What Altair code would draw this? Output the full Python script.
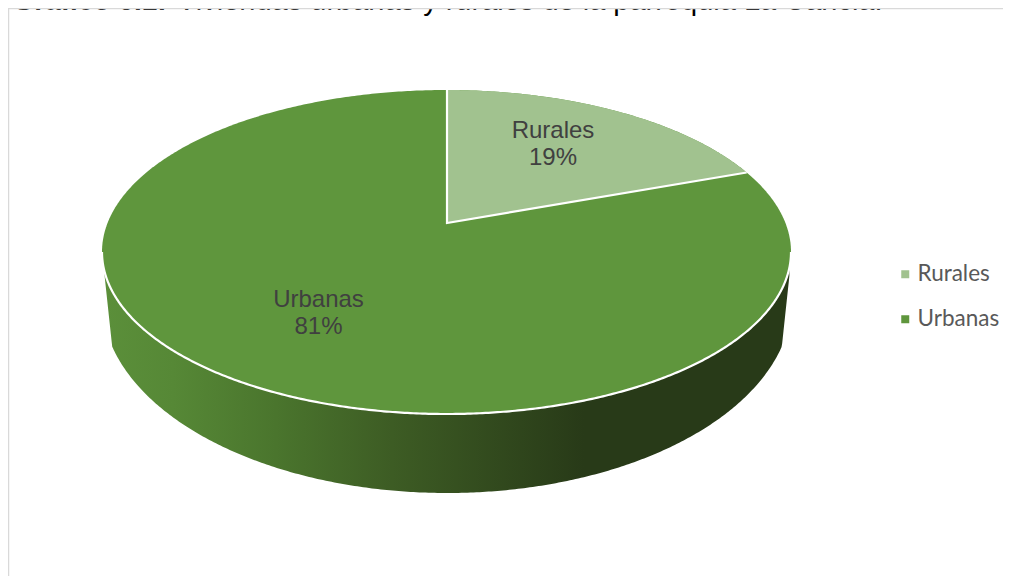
import numpy as np
import pandas as pd
import altair as alt

# ---- values
categories = ["Rurales", "Urbanas"]
shares = [19.4, 80.6]
percent_labels = ["19%", "81%"]
colors = ["#A1C28F", "#5F963D"]
title_bold = "Gráfico 6.1:"
title_rest = "Viviendas urbanas y rurales de la parroquia La Cancia."

# ---- geometry of the tilted pie, in page pixels
M = 8
PLOT_W, PLOT_H = 995, 568
cx, cy, rx, ry = 446.5, 252.0, 344.5, 162.0
apex_x, apex_y = 447.0, 223.0
low_cy, low_rx, low_ry = 300.0, 345.0, 193.0
edge_dx, edge_y, edge_slope = 342.5, 275.0, 9.33

t = np.linspace(0, np.pi, 361)
ex = cx - rx * np.cos(t)
e_lo = cy + ry * np.sin(t)
e_hi = cy - ry * np.sin(t)

# end of the Rurales slice: circle angle projected with the pie's perspective
theta = 2 * np.pi * shares[0] / 100
up, down = apex_y - (cy - ry), (cy + ry) - apex_y
k = (down - up) / (down + up)
u, v = np.sin(theta), np.cos(theta)
end_x = apex_x + rx * np.sqrt(1 - k * k) * u / (1 + k * v)
end_y = cy - ry * np.sqrt(max(0, 1 - ((end_x - cx) / rx) ** 2))

dx = np.abs(ex - 447)
side = pd.DataFrame({
    "x": ex, "y": e_lo,
    "y2": np.minimum(
        low_cy + low_ry * np.sqrt(np.clip(1 - (dx / low_rx) ** 2, 0, 1)),
        edge_y + (edge_dx - dx) * edge_slope,
    ),
})
side = side[dx <= edge_dx]
urb = pd.DataFrame({"x": ex, "y": e_hi, "y2": e_lo, "serie": categories[1]})
wx = np.linspace(apex_x, end_x, 200)
rur = pd.DataFrame({
    "x": wx,
    "y": cy - ry * np.sqrt(np.clip(1 - ((wx - cx) / rx) ** 2, 0, 1)),
    "y2": apex_y + (end_y - apex_y) * (wx - apex_x) / (end_x - apex_x),
    "serie": categories[0],
})
outline = pd.concat([
    pd.DataFrame({"x": ex, "y": e_lo, "path": "front", "i": range(len(ex))}),
    pd.DataFrame({"x": [apex_x, apex_x, end_x], "y": [cy - ry, apex_y, end_y],
                  "path": "cut", "i": [0, 1, 2]}),
])
labels = pd.DataFrame({
    "x": [553, 318.5], "y": [130.5, 299.5],
    "t": [f"{c}\n{p}" for c, p in zip(categories, percent_labels)],
})
title_df = pd.DataFrame({"x": [12.5, 177], "y": [10, 10], "t": [title_bold, title_rest]})
frame_h = pd.DataFrame({"x": [M], "x2": [M + PLOT_W], "y": [M + 0.5]})
frame_v = pd.DataFrame({"x": [M + 0.5], "y": [M], "y2": [M + PLOT_H]})

X = alt.Scale(domain=[M, M + PLOT_W], range=[0, PLOT_W])
Y = alt.Scale(domain=[M, M + PLOT_H], range=[0, PLOT_H])
ex_x = alt.X("x:Q", scale=X, axis=None)
ex_y = alt.Y("y:Q", scale=Y, axis=None)

color = alt.Color(
    "serie:N",
    scale=alt.Scale(domain=categories, range=colors),
    legend=alt.Legend(
        title=None, orient="none", legendX=886, legendY=255,
        symbolType="square", symbolSize=64, symbolStrokeWidth=0,
        labelFont="Lato", labelFontSize=22.5, labelColor="#595959",
        labelLimit=200, labelOffset=1, rowPadding=22, symbolOpacity=1,
    ),
)

gradient = alt.Gradient(
    gradient="linear", x1=0, x2=1, y1=0, y2=0,
    stops=[
        alt.GradientStop(offset=0.0, color="#5B8F3A"),
        alt.GradientStop(offset=0.1, color="#568836"),
        alt.GradientStop(offset=0.25, color="#4A752D"),
        alt.GradientStop(offset=0.42, color="#3D5C24"),
        alt.GradientStop(offset=0.7, color="#283A18"),
        alt.GradientStop(offset=1.0, color="#283A18"),
    ],
)

layers = [
    alt.Chart(title_df.iloc[[0]]).mark_text(
        font="Liberation Sans", fontSize=28, fontWeight="bold", color="#000000",
        align="left", baseline="alphabetic",
    ).encode(x=ex_x, y=ex_y, text="t:N"),
    alt.Chart(title_df.iloc[[1]]).mark_text(
        font="Liberation Sans", fontSize=29, color="#000000",
        align="left", baseline="alphabetic",
    ).encode(x=ex_x, y=ex_y, text="t:N"),
    alt.Chart(frame_h).mark_rule(color="#D9D9D9", strokeWidth=1.5).encode(x=ex_x, x2="x2:Q", y=ex_y),
    alt.Chart(frame_v).mark_rule(color="#D9D9D9", strokeWidth=1.5).encode(x=ex_x, y=ex_y, y2="y2:Q"),
    alt.Chart(side).mark_area(color=gradient, clip=False).encode(x=ex_x, y=ex_y, y2="y2:Q"),
    alt.Chart(urb).mark_area(opacity=1).encode(x=ex_x, y=ex_y, y2="y2:Q", color=color),
    alt.Chart(rur).mark_area(opacity=1).encode(x=ex_x, y=ex_y, y2="y2:Q", color=color),
    alt.Chart(outline).mark_line(color="white", strokeWidth=2.2).encode(
        x=ex_x, y=ex_y, detail="path:N", order="i:Q"),
    alt.Chart(labels).mark_text(
        font="Liberation Sans", fontSize=24, color="#404040",
        lineBreak="\n", lineHeight=27.5, align="center", baseline="middle",
    ).encode(x=ex_x, y=ex_y, text="t:N"),
]

chart = alt.layer(*layers).resolve_scale(color="shared").properties(
    width=PLOT_W, height=PLOT_H, padding=0,
    autosize=alt.AutoSizeParams(type="none"),
).configure_view(stroke=None)

chart.save("out.html", embed_options={"renderer": "svg", "actions": False})
